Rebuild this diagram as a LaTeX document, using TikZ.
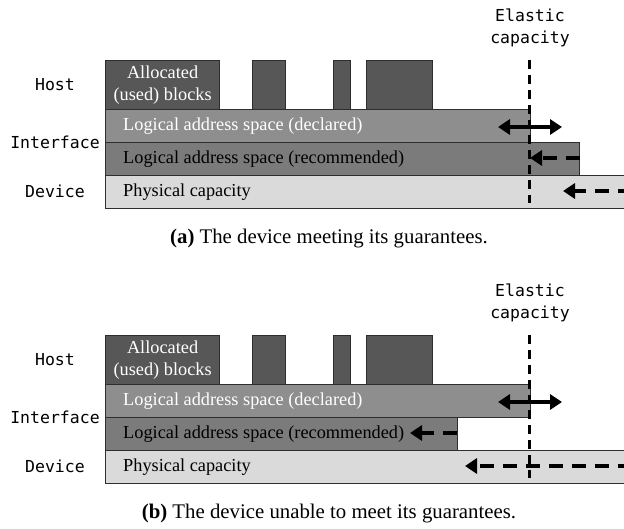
\documentclass[tikz,border=0pt]{standalone}
\usepackage{fontspec}
\setmainfont{Liberation Serif}
\newfontfamily\monof{DejaVu Sans Mono}
\usetikzlibrary{arrows.meta}
\definecolor{hostgray}{HTML}{575757}
\definecolor{declgray}{HTML}{8E8E8E}
\definecolor{recgray}{HTML}{7B7B7B}
\definecolor{physgray}{HTML}{DADADA}
\definecolor{edgegray}{HTML}{2E2E2E}
\tikzset{
  box/.style={draw=edgegray, line width=1.2pt, anchor=north west, inner sep=0pt, minimum height=33pt},
  blk/.style={box, fill=hostgray, minimum height=49pt},
  bartext/.style={anchor=west, inner sep=0pt, font=\fontsize{18.3}{22}\selectfont},
  lay/.style={inner sep=0pt, font=\monof\fontsize{16.5}{22}\selectfont},
  vline/.style={line width=2.2pt, dash pattern=on 9pt off 6pt},
  tip/.tip={Triangle[length=12pt,width=15pt]},
  arr/.style={line width=4pt, -tip},
  dblarr/.style={line width=4pt, tip-tip},
  darr/.style={arr, dash pattern=on 14pt off 9pt},
  capt/.style={inner sep=0pt, font=\fontsize{20.8}{24}\selectfont},
}
% #1 suffix, #2 vertical shift, #3 recommended bar width, #4 rec arrow tail x,
% #5 rec arrow tip x, #6 physical arrow tip x, #7 caption tag, #8 caption text
\newcommand\elpanel[8]{%
\begin{scope}[shift={(0,#2)}]
  \node[blk, minimum width=114pt] (hb1#1) at (105,60) {};
  \node[blk, minimum width=33pt] (hb2#1) at (252,60) {};
  \node[blk, minimum width=17pt] (hb3#1) at (333,60) {};
  \node[blk, minimum width=66pt] (hb4#1) at (366,60) {};
  \node[inner sep=0pt, align=center, text=white, font=\fontsize{18.3}{22}\selectfont] (ht#1) at (hb1#1.center) {Allocated\\(used) blocks};
  \node[box, fill=declgray, minimum width=425pt] (decl#1) at (105,109) {};
  \node[box, fill=recgray, minimum width=#3pt] (rec#1) at (105,142) {};
  \node[box, fill=physgray, minimum width=540pt] (phys#1) at (105,175) {};
  \node[bartext, text=white] (dt#1) at ([xshift=18pt]decl#1.west) {Logical address space (declared)};
  \node[bartext] (rt#1) at ([xshift=18pt]rec#1.west) {Logical address space (recommended)};
  \node[bartext] (pt#1) at ([xshift=18pt]phys#1.west) {Physical capacity};
  \node[lay] (lh#1) at (55,85) {Host};
  \node[lay] (li#1) at (55,142) {Interface};
  \node[lay] (ld#1) at (55,191) {Device};
  \node[lay, align=center] (el#1) at (530,28) {Elastic\\capacity};
  \coordinate (vt#1) at (529.5,60);
  \coordinate (vb#1) at (529.5,203);
  \draw[vline] (vt#1) -- (vb#1);
  \coordinate (dl#1) at (498,127);
  \coordinate (dr#1) at (562,127);
  \draw[dblarr] (dl#1) -- (dr#1);
  \coordinate (rtail#1) at (#4,158);
  \coordinate (rtip#1) at (#5,158);
  \draw[darr] (rtail#1) -- (rtip#1);
  \coordinate (ptail#1) at (632,191);
  \coordinate (ptip#1) at (#6,191);
  \draw[darr] (ptail#1) -- (ptip#1);
  \node[capt] (cap#1) at (329,239) {\textbf{#7} #8};
\end{scope}}
\begin{document}
\begin{tikzpicture}[x=1pt, y=-1pt]
  \clip (0,0) rectangle (624,529);
  \fill[white] (0,0) rectangle (624,529);
  \elpanel{a}{0}{474}{580}{530}{563}{(a)}{The device meeting its guarantees.}
  \elpanel{b}{275}{352}{457}{410}{465}{(b)}{The device unable to meet its guarantees.}
\end{tikzpicture}
\end{document}
